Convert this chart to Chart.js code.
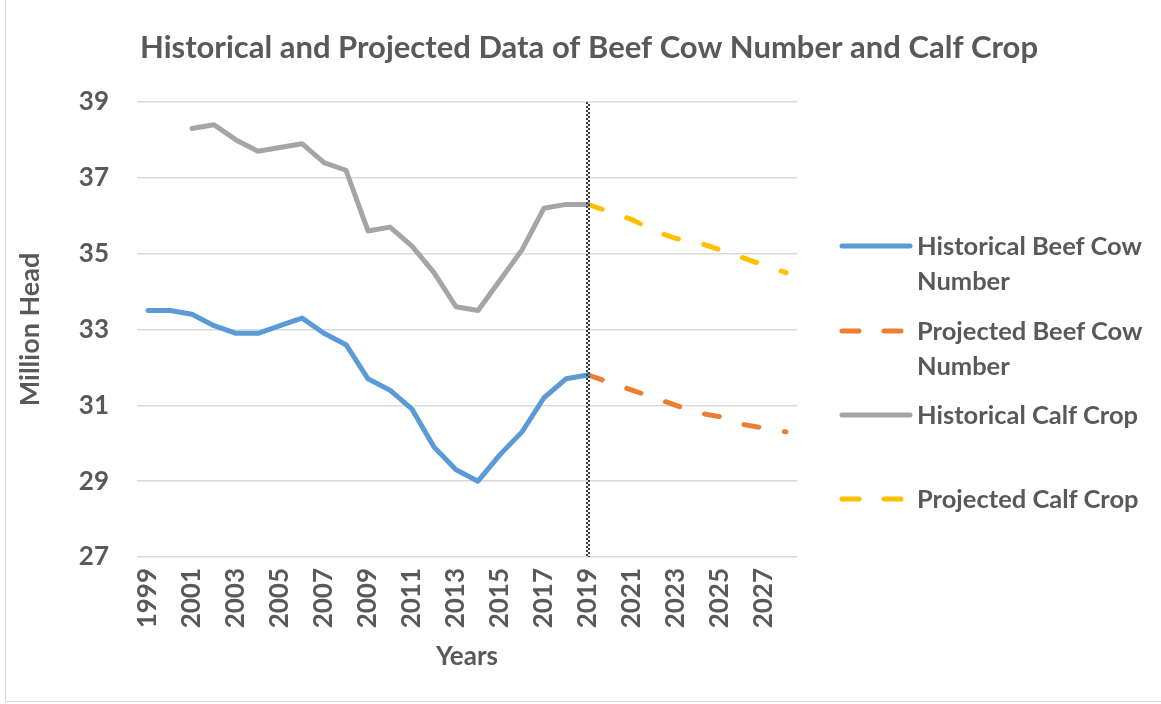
<!DOCTYPE html>
<html>
<head>
<meta charset="utf-8">
<script src="https://cdn.jsdelivr.net/npm/chart.js@4.4.1/dist/chart.umd.min.js"></script>
<style>
    body { margin: 0; background: #fff; }
    #wrap { position: relative; width: 1161px; height: 704px; overflow: hidden; }
    #frame { position: absolute; left: 5px; top: 0; width: 1160px; height: 701px;
             border-left: 1px solid #d9d9d9; border-bottom: 1px solid #d9d9d9; }
    #chart { position: absolute; left: 0; top: 0; }
    #legend { position: absolute; left: 838px; top: 228px; font-family: Lato, sans-serif;
              font-weight: bold; font-size: 25.5px; color: #595959; }
    .item { position: absolute; left: 0; width: 320px; line-height: 35px; }
    .item svg { position: absolute; left: 0; top: 12px; }
    .item span { position: absolute; left: 79px; top: 0; width: 250px; }
</style>
</head>
<body>
<div id="wrap">
    <div id="frame"></div>
    <canvas id="chart" width="1161" height="704"></canvas>
    <div id="legend"></div>
</div>
<script>
const years = ['1999', '2000', '2001', '2002', '2003', '2004', '2005', '2006', '2007', '2008',
               '2009', '2010', '2011', '2012', '2013', '2014', '2015', '2016', '2017', '2018',
               '2019', '2020', '2021', '2022', '2023', '2024', '2025', '2026', '2027', '2028'];

const historicalCow = [33.5, 33.5, 33.4, 33.1, 32.9, 32.9, 33.1, 33.3, 32.9, 32.6,
                       31.7, 31.4, 30.9, 29.9, 29.3, 29.0, 29.7, 30.3, 31.2, 31.7,
                       31.8, null, null, null, null, null, null, null, null, null];
const projectedCow = [null, null, null, null, null, null, null, null, null, null,
                      null, null, null, null, null, null, null, null, null, null,
                      31.8, 31.6, 31.4, 31.2, 31.0, 30.8, 30.7, 30.5, 30.4, 30.3];
const historicalCalf = [null, null, 38.3, 38.4, 38.0, 37.7, 37.8, 37.9, 37.4, 37.2,
                        35.6, 35.7, 35.2, 34.5, 33.6, 33.5, 34.3, 35.1, 36.2, 36.3,
                        36.3, null, null, null, null, null, null, null, null, null];
const projectedCalf = [null, null, null, null, null, null, null, null, null, null,
                       null, null, null, null, null, null, null, null, null, null,
                       36.3, 36.1, 35.9, 35.6, 35.4, 35.3, 35.1, 34.9, 34.7, 34.5];

const yTicks = [27, 29, 31, 33, 35, 37, 39];
const splitYear = '2019';

const seriesNames = ['Historical Beef Cow Number', 'Projected Beef Cow Number',
                     'Historical Calf Crop', 'Projected Calf Crop'];
const seriesColors = ['#5B9BD5', '#ED7D31', '#A5A5A5', '#FFC000'];
const dashed = [false, true, false, true];

const chartTitle = 'Historical and Projected Data of Beef Cow Number and Calf Crop';
const textColor = '#595959';
const dash = [15, 26];

// title is centred on the whole picture, not just the plot
const titlePlugin = {
    id: 'wideTitle',
    afterDraw(chart) {
        const ctx = chart.ctx;
        ctx.save();
        ctx.font = 'bold 31px Lato';
        ctx.fillStyle = textColor;
        ctx.textAlign = 'center';
        ctx.textBaseline = 'middle';
        ctx.fillText(chartTitle, 589, 48);
        ctx.restore();
    }
};

// dotted line at the last historical year
const dividerLine = {
    id: 'dividerLine',
    afterDatasetsDraw(chart) {
        const ctx = chart.ctx;
        const x = chart.scales.x.getPixelForValue(years.indexOf(splitYear));
        const top = chart.chartArea.top;
        const bottom = chart.chartArea.bottom;
        ctx.save();
        ctx.lineWidth = 2;
        ctx.strokeStyle = '#3a3a3a';
        ctx.setLineDash([2, 2]);
        [-1, 1].forEach((dx, k) => {
            ctx.lineDashOffset = k * 2;
            ctx.beginPath();
            ctx.moveTo(x + dx, top);
            ctx.lineTo(x + dx, bottom);
            ctx.stroke();
        });
        ctx.restore();
    }
};

const allData = [historicalCow, projectedCow, historicalCalf, projectedCalf];

new Chart(document.getElementById('chart'), {
    type: 'line',
    data: {
        labels: years,
        datasets: allData.map((d, i) => ({
            label: seriesNames[i],
            data: d,
            borderColor: seriesColors[i],
            backgroundColor: seriesColors[i],
            borderWidth: 5,
            borderDash: dashed[i] ? dash : [],
            borderCapStyle: 'round',
            borderJoinStyle: 'round',
            pointRadius: 0,
            tension: 0,
            spanGaps: false
        }))
    },
    plugins: [dividerLine, titlePlugin],
    options: {
        responsive: false,
        animation: false,
        layout: { padding: { left: 10, right: 364, top: 102, bottom: 30 } },
        plugins: {
            legend: { display: false },
            tooltip: { enabled: false },
            title: { display: false }
        },
        scales: {
            x: {
                offset: true,
                grid: { display: false },
                border: { display: false },
                ticks: {
                    autoSkip: false,
                    maxRotation: 90,
                    minRotation: 90,
                    padding: 3,
                    color: textColor,
                    font: { family: 'Lato', size: 26, weight: 'bold' },
                    callback: (v, i) => (i % 2 === 0 ? years[i] : '')
                },
                title: {
                    display: true,
                    text: 'Years',
                    color: textColor,
                    font: { family: 'Lato', size: 26, weight: 'bold' },
                    padding: { top: 2, bottom: 2 }
                },
                afterFit: s => { s.height = 117; }
            },
            y: {
                min: 27,
                max: 39,
                afterBuildTicks: s => { s.ticks = yTicks.map(v => ({ value: v })); },
                grid: { color: '#d9d9d9', lineWidth: 1.5, drawTicks: false },
                border: { display: false },
                ticks: {
                    padding: 28,
                    color: textColor,
                    font: { family: 'Lato', size: 26, weight: 'bold' }
                },
                title: {
                    display: true,
                    text: 'Million Head',
                    color: textColor,
                    font: { family: 'Lato', size: 27, weight: 'bold' },
                    padding: { top: 4, bottom: 4 }
                },
                afterFit: s => { s.width = 127; }
            }
        }
    }
});

// legend on the right, laid out like the spreadsheet one
const legendTops = [0, 85, 169, 253];
const legend = document.getElementById('legend');
seriesNames.forEach((name, i) => {
    const item = document.createElement('div');
    item.className = 'item';
    item.style.top = legendTops[i] + 'px';
    const da = dashed[i] ? 'stroke-dasharray="17 25"' : '';
    item.innerHTML = '<svg width="76" height="12"><line x1="4" y1="6" x2="72" y2="6" stroke="' +
        seriesColors[i] + '" stroke-width="5" stroke-linecap="round" ' + da + '/></svg>' +
        '<span>' + name + '</span>';
    legend.appendChild(item);
});
</script>
</body>
</html>
